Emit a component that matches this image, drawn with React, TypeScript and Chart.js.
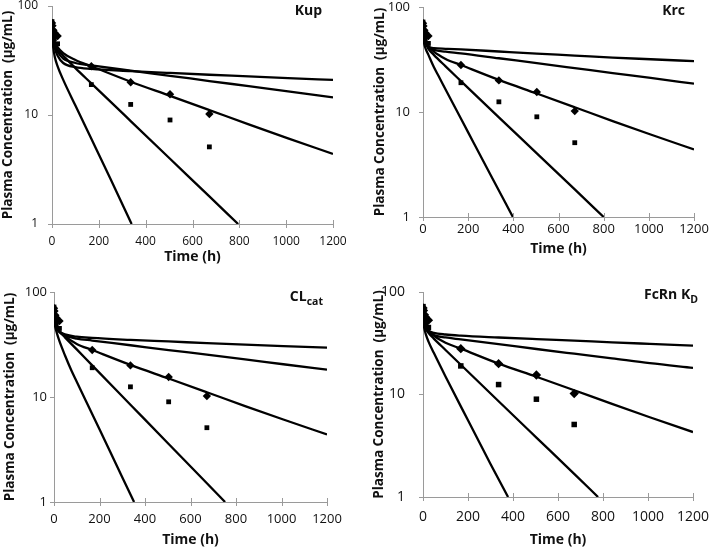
import React, { useEffect, useRef } from 'react';
import { Chart, registerables } from 'chart.js';
Chart.register(...registerables);

// ---------------- data ----------------
const X_TICKS = [0, 200, 400, 600, 800, 1000, 1200];
const Y_TICKS = [1, 10, 100];

// observed data (same in every panel)
const obsTimes = [0, 2, 6, 10, 24, 168, 336, 504, 672];
const obsDiamond = [70, 66, 60, 57, 53, 28, 20, 15.5, 10.2];
const obsSquare = [72, 60, 55, 50, 45, 19, 12.5, 9, 5.1];

// simulated curves
const simTimes = [0, 5, 12, 24, 48, 100, 168, 336, 504, 672, 840, 1008, 1200];

// Kup panel
const kupA = [60, 48, 41, 35, 30, 27.5, 26.5, 25.3, 24.3, 23.4, 22.6, 21.8, 21];
const kupB = [60, 50, 44, 38, 33, 30, 28.5, 25.5, 22.9, 20.5, 18.4, 16.5, 14.5];
const kupC = [60, 52, 47, 42, 37, 32, 28, 20.2, 15, 11.1, 8.2, 6.1, 4.4];
const kupDTimes = [0, 5, 12, 24, 48, 100, 168, 336, 504, 672, 795];
const kupD = [57, 49, 44, 39.5, 35, 26.9, 19.5, 8.8, 3.97, 1.79, 1];
const kupETimes = [0, 5, 12, 24, 48, 100, 168, 250, 340];
const kupE = [55, 42, 34, 28, 21, 12.2, 6.05, 2.59, 1];

// Krc panel
const krcA = [60, 50, 45, 42, 40.5, 40, 39.5, 37.7, 36, 34.5, 33, 31.8, 30.5];
const krcB = [60, 50, 45, 41.5, 39, 37.5, 36.2, 32.5, 29.2, 26.2, 23.5, 21.1, 18.6];
const krcC = [60, 52, 47, 42.5, 37.5, 32, 28, 20.2, 15, 11.1, 8.2, 6.1, 4.4];
const krcDTimes = [0, 5, 12, 24, 48, 100, 168, 336, 504, 672, 800];
const krcD = [58, 50, 45, 40, 35, 27.2, 19.7, 8.9, 4.04, 1.83, 1];
const krcETimes = [0, 5, 12, 24, 48, 69, 100, 200, 300, 398];
const krcE = [55, 45, 40, 35, 26.8, 22, 16.4, 6.4, 2.5, 1];

// CLcat panel
const clA = [60, 50, 45, 42, 39.5, 37.5, 36.5, 35, 33.8, 32.6, 31.5, 30.5, 29.5];
const clB = [60, 50, 45, 41.5, 38.5, 36, 34.5, 31.1, 28, 25.3, 22.8, 20.5, 18.2];
const clC = [60, 52, 47, 42.5, 38, 32, 28, 20.2, 15, 11.1, 8.2, 6.1, 4.4];
const clDTimes = [0, 5, 12, 24, 48, 100, 168, 336, 504, 672, 752];
const clD = [58, 49, 45, 42, 37, 28.4, 20, 8.45, 3.57, 1.51, 1];
const clETimes = [0, 5, 12, 24, 48, 76, 100, 200, 300, 352];
const clE = [55, 47, 41, 34, 25, 18, 14, 4.92, 1.72, 1];

// FcRn KD panel
const fcA = [60, 50, 45, 42, 40, 38.5, 37.5, 36, 34.7, 33.5, 32.3, 31.2, 30];
const fcB = [60, 50, 45, 41, 38, 36, 34.5, 31, 27.8, 25, 22.5, 20.2, 18.2];
const fcC = [60, 52, 47, 42.5, 37.5, 32, 28, 20, 14.9, 11, 8.1, 6, 4.3];
const fcDTimes = [0, 5, 12, 24, 48, 100, 168, 336, 504, 672, 778];
const fcD = [57, 49, 44, 40, 35.1, 27.2, 19.5, 8.6, 3.8, 1.68, 1];
const fcETimes = [0, 5, 12, 24, 48, 100, 200, 300, 378];
const fcE = [55, 45, 39, 33, 25.5, 15, 5.6, 2.1, 1];

// ---------------- layout ----------------
const FONT = '"Open Sans", "DejaVu Sans", sans-serif';
const AXIS = '#9a9a9a';

type Line = [number[], number[]];
interface PanelDef {
  key: string;
  box: { left: number; top: number; width: number; height: number };
  pad: { left: number; top: number; right: number; bottom: number };
  yw: number;
  xh: number;
  yTickPad: number;
  xTickPad: number;
  tickSize: number;
  lines: Line[];
  markerR: number;
  title: React.ReactNode;
  titleRight: number;
  titleTop: number;
}

const panels: PanelDef[] = [
  {
    key: 'kup',
    box: { left: 0, top: 0, width: 354, height: 270 },
    pad: { left: 0, top: 6, right: 21, bottom: 5 },
    yw: 52, xh: 41, yTickPad: 10, xTickPad: 10, tickSize: 12,
    lines: [[simTimes, kupA], [simTimes, kupB], [simTimes, kupC], [kupDTimes, kupD], [kupETimes, kupE]],
    markerR: 3.4,
    title: <span>Kup</span>, titleRight: 322, titleTop: 2,
  },
  {
    key: 'krc',
    box: { left: 355, top: 0, width: 354, height: 270 },
    pad: { left: 17, top: 7, right: 15, bottom: 13 },
    yw: 51, xh: 40, yTickPad: 9, xTickPad: 4, tickSize: 13,
    lines: [[simTimes, krcA], [simTimes, krcB], [simTimes, krcC], [krcDTimes, krcD], [krcETimes, krcE]],
    markerR: 3.4,
    title: <span>Krc</span>, titleRight: 685, titleTop: 2,
  },
  {
    key: 'cl',
    box: { left: 0, top: 270, width: 354, height: 279 },
    pad: { left: 2, top: 22, right: 27, bottom: 1 },
    yw: 52, xh: 46, yTickPad: 3, xTickPad: 9, tickSize: 13,
    lines: [[simTimes, clA], [simTimes, clB], [simTimes, clC], [clDTimes, clD], [clETimes, clE]],
    markerR: 3.4,
    title: <span>CL<sub style={{ fontSize: '0.75em' }}>cat</sub></span>, titleRight: 323, titleTop: 288,
  },
  {
    key: 'fc',
    box: { left: 355, top: 270, width: 354, height: 279 },
    pad: { left: 16, top: 22, right: 16, bottom: 1 },
    yw: 52, xh: 51, yTickPad: 14, xTickPad: 12, tickSize: 14,
    lines: [[simTimes, fcA], [simTimes, fcB], [simTimes, fcC], [fcDTimes, fcD], [fcETimes, fcE]],
    markerR: 3.9,
    title: <span>FcRn K<sub style={{ fontSize: '0.75em' }}>D</sub></span>, titleRight: 698, titleTop: 286,
  },
];

const toPts = (xs: number[], ys: number[]) => xs.map((x, i) => ({ x, y: ys[i] }));

function Panel({ p }: { p: PanelDef }) {
  const ref = useRef<HTMLCanvasElement>(null);
  useEffect(() => {
    const xTickPlugin = {
      id: 'xCrossTicks',
      afterDraw(chart: any) {
        const { ctx, chartArea, scales } = chart;
        ctx.save();
        ctx.strokeStyle = AXIS;
        ctx.lineWidth = 1;
        for (const v of X_TICKS) {
          const x = Math.round(scales.x.getPixelForValue(v)) + 0.5;
          ctx.beginPath();
          ctx.moveTo(x, chartArea.bottom - 4);
          ctx.lineTo(x, chartArea.bottom + 4);
          ctx.stroke();
        }
        ctx.restore();
      },
    };
    const datasets: any[] = [
      {
        data: toPts(obsTimes, obsDiamond), showLine: false, pointStyle: 'rectRot',
        pointRadius: p.markerR + 0.8, pointBackgroundColor: '#000', pointBorderWidth: 0,
        borderColor: '#000',
      },
      {
        data: toPts(obsTimes, obsSquare), showLine: false, pointStyle: 'rect',
        pointRadius: p.markerR, pointBackgroundColor: '#000', pointBorderWidth: 0,
        borderColor: '#000',
      },
      ...p.lines.map(([xs, ys]) => ({
        data: toPts(xs, ys), borderColor: '#000', borderWidth: 2.3, pointRadius: 0,
        cubicInterpolationMode: 'monotone', fill: false,
      })),
    ];
    const chart = new Chart(ref.current as HTMLCanvasElement, {
      type: 'line',
      data: { datasets },
      plugins: [xTickPlugin],
      options: {
        responsive: false,
        animation: false,
        devicePixelRatio: 1,
        layout: { padding: p.pad },
        plugins: { legend: { display: false }, tooltip: { enabled: false } },
        scales: {
          x: {
            type: 'linear', min: 0, max: 1200,
            afterBuildTicks: (s: any) => { s.ticks = X_TICKS.map((v) => ({ value: v })); },
            ticks: { callback: (v: any) => String(v), font: { family: FONT, size: p.tickSize }, color: '#111', padding: p.xTickPad, maxRotation: 0, autoSkip: false },
            grid: { display: false, drawTicks: false },
            border: { display: true, color: AXIS, width: 1 },
            title: { display: true, text: 'Time (h)', font: { family: FONT, size: 14, weight: 'bold' }, color: '#111', padding: 0 },
            afterFit: (s: any) => { s.height = p.xh; s.paddingLeft = 0; s.paddingRight = 0; },
          },
          y: {
            type: 'logarithmic', min: 1, max: 100,
            afterBuildTicks: (s: any) => { s.ticks = Y_TICKS.map((v) => ({ value: v })); },
            ticks: { callback: (v: any) => String(v), font: { family: FONT, size: p.tickSize }, color: '#111', padding: p.yTickPad, autoSkip: false },
            grid: { display: true, drawOnChartArea: false, drawTicks: true, tickLength: 4, color: AXIS },
            border: { display: true, color: AXIS, width: 1 },
            title: { display: true, text: 'Plasma Concentration  (μg/mL)', font: { family: FONT, size: 13.5, weight: 'bold' }, color: '#111', padding: 0 },
            afterFit: (s: any) => { s.width = p.yw; s.paddingTop = 0; s.paddingBottom = 0; },
          },
        },
      } as any,
    });
    return () => chart.destroy();
  }, [p]);
  return (
    <canvas
      ref={ref}
      width={p.box.width}
      height={p.box.height}
      style={{ position: 'absolute', left: p.box.left, top: p.box.top, width: p.box.width, height: p.box.height }}
    />
  );
}

export default function App() {
  return (
    <div style={{ position: 'fixed', left: 0, top: 0, width: 709, height: 549, background: '#fff', overflow: 'hidden' }}>
      {panels.map((p) => (
        <Panel key={p.key} p={p} />
      ))}
      {panels.map((p) => (
        <div
          key={p.key + '-t'}
          style={{
            position: 'absolute', right: 709 - p.titleRight, top: p.titleTop,
            fontFamily: FONT, fontWeight: 'bold', fontSize: 14, lineHeight: '16px', color: '#111', whiteSpace: 'nowrap',
          }}
        >
          {p.title}
        </div>
      ))}
    </div>
  );
}
